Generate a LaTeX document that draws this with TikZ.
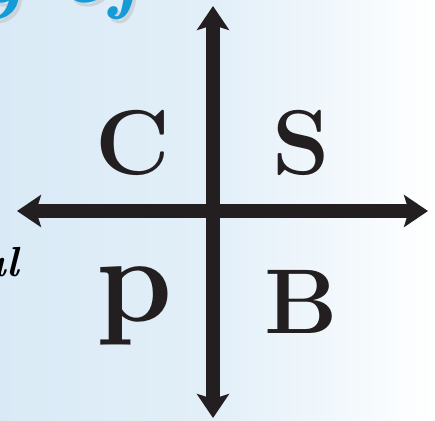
\documentclass[tikz,border=0pt]{standalone}
\usetikzlibrary{arrows.meta,positioning}
\definecolor{bgblue}{RGB}{217,234,246}
\definecolor{titleblue}{RGB}{22,154,216}
\definecolor{axisblack}{RGB}{35,31,32}
\tikzset{
  axis/.style={line width=14pt,draw=axisblack,{Stealth[length=24pt,width=32pt,inset=5pt]}-{Stealth[length=24pt,width=32pt,inset=5pt]}},
  letter/.style={text=axisblack,inner sep=0pt,font=\fontsize{92}{92}\selectfont\bfseries}
}
\begin{document}
\begin{tikzpicture}[x=1pt,y=-1pt]
\useasboundingbox (0,0) rectangle (435,420);
\clip (0,0) rectangle (435,420);
\shade[left color=bgblue,right color=white,middle color=bgblue!75] (0,0) rectangle (435,420);
% cut-off titles
\node[anchor=base west,inner sep=0pt,text=black!30,opacity=.4,font=\fontsize{86}{86}\selectfont\bfseries\itshape] (titleshadow) at (-22,7) {y of};
\node[anchor=base west,inner sep=0pt,text=titleblue,font=\fontsize{86}{86}\selectfont\bfseries\itshape] (title) at (-25,3) {y of};
\node[anchor=base east,inner sep=0pt,font=\fontsize{42}{42}\selectfont\bfseries\itshape] (side) at (19,276) {ual};
% axes
\coordinate (W) at (17,211);
\coordinate (E) at (428,211);
\coordinate (N) at (213,6);
\coordinate (S) at (213,418);
\draw[axis] (W) -- (E);
\draw[axis] (N) -- (S);
% quadrants
\node[letter] (c) at (133,143) {C};
\node[letter] (s) at (301,143) {S};
\node[letter,font=\fontsize{122}{122}\selectfont\bfseries,anchor=north] (p) at (135,266) {p};
\node[letter] (b) at (301,302) {B};
\end{tikzpicture}
\end{document}
